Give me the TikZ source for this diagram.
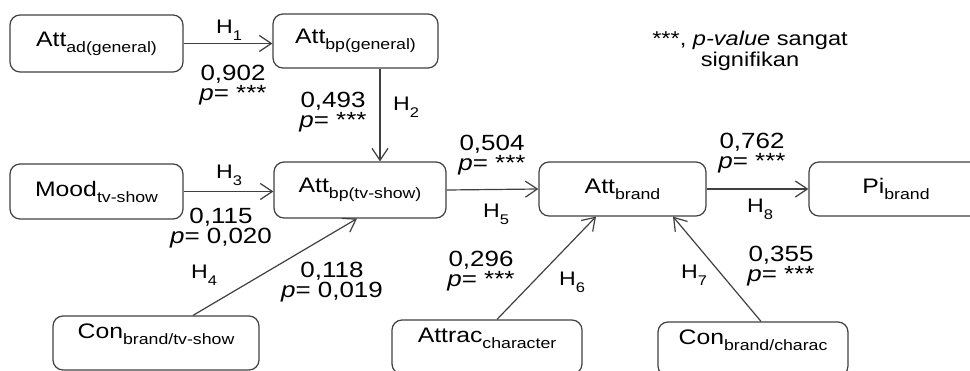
\documentclass[tikz,border=0pt]{standalone}
\usepackage{fontspec}
\setmainfont{Liberation Sans}[FakeStretch=1.18]
\usetikzlibrary{arrows.meta,positioning}

\newcommand{\lowsub}[1]{\raisebox{-3pt}{\fontsize{7.5}{9}\selectfont #1}}
\newcommand{\hsub}[1]{\raisebox{-3.5pt}{\fontsize{7}{8}\selectfont #1}}

\begin{document}
\begin{tikzpicture}[
  x=0.5pt, y=-0.5pt,
  box/.style={rectangle, draw=black!75, line width=0.6pt, rounded corners=5pt, minimum width=86pt, minimum height=28pt, inner sep=1pt, font=\fontsize{10.5}{12}\selectfont},
  lowbox/.style={box, text depth=12pt},
  arrow/.style={-{Straight Barb[length=6pt,width=8pt]}, line width=0.6pt, draw=black!75},
  hyp/.style={anchor=base, font=\fontsize{9.8}{10}\selectfont},
  coef/.style={align=center, inner sep=0pt, font=\fontsize{11}{10}\selectfont},
  note/.style={align=center, inner sep=0pt, font=\fontsize{10}{10.5}\selectfont}
]

\clip (0,0) rectangle (970,370);

% Row 1: general attitudes
\node[box, minimum width=86.5pt, minimum height=28.5pt] (adgen) at (96.5,43.5) {Att\lowsub{ad(general)}};
\node[box, minimum width=82.5pt, minimum height=27pt] (bpgen) at (355.5,41) {Att\lowsub{bp(general)}};

% Row 2: mood, placement and brand
\node[box, minimum width=86.5pt, minimum height=27.5pt] (mood) at (96.5,191.5) {Mood\lowsub{tv-show}};
\node[box, minimum height=28pt] (tvbp) at (360,190) {Att\lowsub{bp(tv-show)}};
\node[box, minimum width=83.5pt, minimum height=27pt] (attbrand) at (622.5,189) {Att\lowsub{brand}};
\node[box, minimum width=87pt, minimum height=27pt] (pibrand) at (896,189) {Pi\lowsub{brand}};

% Row 3: congruity and attractiveness
\node[lowbox, minimum width=103pt, minimum height=27pt] (contv) at (156,343) {Con\lowsub{brand/tv-show}};
\node[lowbox, minimum width=95pt, minimum height=27pt] (attrac) at (487,347) {Attrac\lowsub{character}};
\node[lowbox, minimum width=95pt, minimum height=27pt] (concharac) at (753,349) {Con\lowsub{brand/charac}};

% Note
\node[note] (sig) at (750,51) {***, \textit{p-value} sangat\\signifikan};

% Paths
\draw[arrow] (adgen.east) -- (adgen.east -| bpgen.west);
\draw[arrow] ([xshift=12.25pt]bpgen.south) -- ([xshift=12.25pt]bpgen.south |- tvbp.north);
\draw[arrow] (mood.east) -- (mood.east -| tvbp.west);
\draw[arrow] ([xshift=18.5pt]contv.north) -- ([xshift=-1.5pt]tvbp.south);
\draw[arrow] (tvbp.east) -- (attbrand.west);
\draw[arrow] ([xshift=5pt]attrac.north) -- ([xshift=-13.25pt]attbrand.south);
\draw[arrow] ([xshift=4pt]concharac.north) -- ([xshift=25.25pt]attbrand.south);
\draw[arrow] (attbrand.east) -- (pibrand.west);

% Hypotheses
\node[hyp] (h1) at (229,33) {H\hsub{1}};
\node[hyp] (h2) at (406,110) {H\hsub{2}};
\node[hyp] (h3) at (229,178) {H\hsub{3}};
\node[hyp] (h4) at (204,278) {H\hsub{4}};
\node[hyp] (h5) at (496,217) {H\hsub{5}};
\node[hyp] (h6) at (572,285) {H\hsub{6}};
\node[hyp] (h7) at (694,278) {H\hsub{7}};
\node[hyp] (h8) at (760,212) {H\hsub{8}};

% Coefficients
\node[coef] (c1) at (233,85) {0,902\\\textit{p}= ***};
\node[coef] (c2) at (333,112) {0,493\\\textit{p}= ***};
\node[coef] (c3) at (221,228) {0,115\\\textit{p}= 0,020};
\node[coef] (c4) at (332,282) {0,118\\\textit{p}= 0,019};
\node[coef] (c5) at (492,155) {0,504\\\textit{p}= ***};
\node[coef] (c6) at (481,271) {0,296\\\textit{p}= ***};
\node[coef] (c7) at (781,266) {0,355\\\textit{p}= ***};
\node[coef] (c8) at (752,153) {0,762\\\textit{p}= ***};

\end{tikzpicture}
\end{document}
